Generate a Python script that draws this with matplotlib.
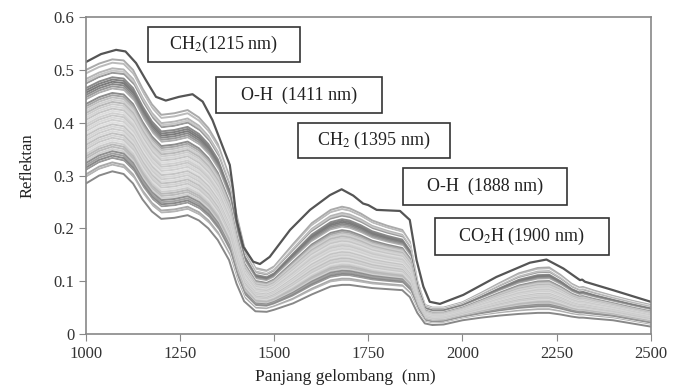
import numpy as np
import matplotlib
matplotlib.use("Agg")
import matplotlib.pyplot as plt

plt.rcParams['font.family'] = ['Liberation Serif', 'DejaVu Serif']
plt.rcParams['mathtext.fontset'] = 'stix'

# darkest outlier spectrum
wl_top = [1000, 1040, 1080, 1105, 1133, 1159, 1186, 1212, 1247, 1283, 1310, 1336, 1363, 1382,
          1391, 1400, 1418, 1444, 1462, 1488, 1542, 1595, 1648, 1679, 1710, 1736, 1750, 1772,
          1834, 1860, 1878, 1896, 1913, 1940, 2002, 2090, 2179, 2223, 2268, 2312, 2318, 2325,
          2400, 2500]
top = [0.515, 0.530, 0.538, 0.535, 0.513, 0.481, 0.449, 0.442, 0.449, 0.454, 0.440, 0.405, 0.355, 0.320,
       0.273, 0.216, 0.165, 0.137, 0.1325, 0.146, 0.197, 0.235, 0.263, 0.274, 0.262, 0.247, 0.244, 0.235,
       0.233, 0.216, 0.140, 0.090, 0.061, 0.057, 0.074, 0.108, 0.135, 0.141, 0.124, 0.102, 0.103, 0.099,
       0.083, 0.061]

# wavelength grid for the bundle of spectra
wl = [1000, 1035, 1070, 1100, 1125, 1150, 1175, 1200, 1235, 1270, 1300, 1325, 1350, 1380,
      1400, 1420, 1450, 1480, 1500, 1550, 1600, 1650, 1680, 1700, 1730, 1760, 1800, 1840,
      1860, 1880, 1900, 1920, 1950, 2000, 2050, 2100, 2150, 2200, 2230, 2260, 2290, 2310,
      2320, 2350, 2400, 2450, 2500]

# upper edge of the bundle
upper = [0.500, 0.512, 0.520, 0.518, 0.500, 0.465, 0.435, 0.415, 0.418, 0.424, 0.410, 0.390, 0.360, 0.300,
         0.225, 0.165, 0.125, 0.120, 0.128, 0.170, 0.210, 0.235, 0.241, 0.238, 0.228, 0.215, 0.205, 0.197,
         0.175, 0.100, 0.055, 0.050, 0.050, 0.060, 0.078, 0.097, 0.115, 0.125, 0.126, 0.112, 0.095, 0.088,
         0.089, 0.082, 0.072, 0.063, 0.055]

# lower edge of the bundle
lower = [0.285, 0.300, 0.308, 0.303, 0.285, 0.255, 0.232, 0.218, 0.220, 0.225, 0.215, 0.200, 0.178, 0.140,
         0.095, 0.062, 0.043, 0.042, 0.046, 0.058, 0.075, 0.090, 0.093, 0.093, 0.090, 0.087, 0.085, 0.083,
         0.070, 0.040, 0.020, 0.017, 0.018, 0.026, 0.031, 0.035, 0.038, 0.040, 0.040, 0.037, 0.033, 0.031,
         0.031, 0.029, 0.026, 0.020, 0.014]

# position of each spectrum between lower (0) and upper (1) edge, with its grey
levels = [1.00, 0.97, 0.94, 0.92, 0.90, 0.88, 0.86, 0.84, 0.82, 0.80, 0.78, 0.76, 0.74, 0.72,
          0.70, 0.68, 0.66, 0.64, 0.62, 0.60, 0.58, 0.56, 0.54, 0.52, 0.50, 0.48, 0.46, 0.44,
          0.42, 0.40, 0.38, 0.36, 0.34, 0.32, 0.30, 0.28, 0.26, 0.24, 0.22, 0.20, 0.18, 0.16,
          0.14, 0.12, 0.10, 0.08, 0.06, 0.04, 0.00]
colors = ['#aaaaaa', '#bbbbbb', '#ffffff', '#b5b5b5', '#c8c8c8', '#999999', '#ffffff', '#8a8a8a',
          '#808080', '#7a7a7a', '#888888', '#9a9a9a', '#b0b0b0', '#ffffff', '#8c8c8c', '#a5a5a5',
          '#c0c0c0', '#d0d0d0', '#b8b8b8', '#cccccc', '#d5d5d5', '#c5c5c5', '#dddddd', '#d0d0d0',
          '#c8c8c8', '#d8d8d8', '#cfcfcf', '#e0e0e0', '#c4c4c4', '#d6d6d6', '#cccccc', '#dadada',
          '#c0c0c0', '#d2d2d2', '#c8c8c8', '#dddddd', '#cccccc', '#b8b8b8', '#bbbbbb', '#d0d0d0',
          '#8f8f8f', '#a0a0a0', '#888888', '#999999', '#ffffff', '#aaaaaa', '#b5b5b5', '#ffffff',
          '#888888']

labels = ['CH$_2$(1215 nm)', 'O-H  (1411 nm)', 'CH$_2$ (1395 nm)', 'O-H  (1888 nm)', 'CO$_2$H (1900 nm)']
box_x0 = [1165, 1345, 1563, 1842, 1926]
box_x1 = [1568, 1786, 1966, 2277, 2389]
box_y0 = [0.515, 0.418, 0.333, 0.244, 0.150]
box_y1 = [0.581, 0.486, 0.399, 0.314, 0.220]

fig = plt.figure(figsize=(6.85, 3.89), dpi=100)
ax = fig.add_axes([0.1255, 0.1414, 0.8245, 0.8146])

wl_a = np.array(wl)
up = np.array(upper)
lo = np.array(lower)
for lev, c in zip(levels, colors):
    ax.plot(wl_a, lo + lev * (up - lo), color=c, lw=1.4, solid_joinstyle='round')
ax.plot(wl_top, top, color='#555555', lw=1.6, solid_joinstyle='round')

for lab, x0, x1, y0, y1 in zip(labels, box_x0, box_x1, box_y0, box_y1):
    ax.add_patch(plt.Rectangle((x0, y0), x1 - x0, y1 - y0, fill=True, facecolor='white',
                               edgecolor='#333333', lw=1.2, zorder=5))
    ax.text((x0 + x1) / 2, (y0 + y1) / 2, lab, ha='center', va='center', fontsize=13,
            color='#222222', zorder=6)

ax.set_xlim(1000, 2500)
ax.set_ylim(0, 0.6)
ax.set_xticks([1000, 1250, 1500, 1750, 2000, 2250, 2500])
ax.set_yticks([0, 0.1, 0.2, 0.3, 0.4, 0.5, 0.6])
ax.set_yticklabels(['0', '0.1', '0.2', '0.3', '0.4', '0.5', '0.6'])
for s in ax.spines.values():
    s.set_color('#888888')
    s.set_linewidth(1.2)
ax.tick_params(direction='out', length=5, color='#888888', labelsize=12, labelcolor='#333333')
ax.set_xlabel('Panjang gelombang  (nm)', fontsize=12.5, color='#222222')
ax.xaxis.set_label_coords(0.46, -0.11)
ax.set_ylabel('Reflektan', fontsize=12, color='#222222')
ax.yaxis.set_label_coords(-0.09, 0.53)

fig.savefig('out.png', dpi=100)
